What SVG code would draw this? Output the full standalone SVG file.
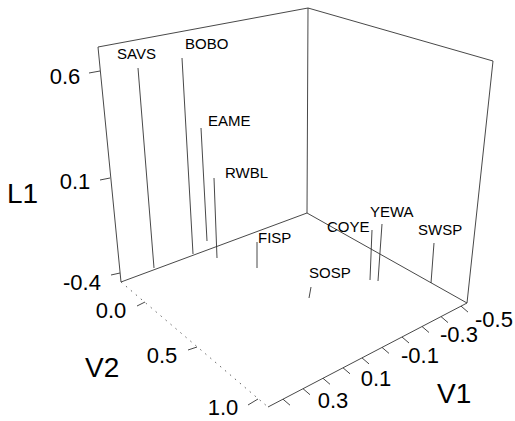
<svg xmlns="http://www.w3.org/2000/svg" width="515" height="421" viewBox="0 0 515 421">
<style>
.frame{stroke:#333;stroke-width:0.9;fill:none}
.drop{stroke:#333;stroke-width:0.9;fill:none}
.tick{stroke:#333;stroke-width:0.9;fill:none}
.hid{stroke:#666;stroke-width:1;fill:none;stroke-dasharray:1.5 5}
.sp{font-family:"Liberation Sans",Arial,sans-serif;font-size:15px;fill:#000}
.tl{font-family:"Liberation Sans",Arial,sans-serif;font-size:22px;fill:#000;text-anchor:middle}
.at{font-family:"Liberation Sans",Arial,sans-serif;font-size:28px;fill:#000}
</style>
<rect width="515" height="421" fill="#fff"/>
<g id="box">
<polyline class="frame" points="121,282 98,47 308,8 493,61 467,303"/>
<line class="frame" x1="308" y1="8" x2="307" y2="213"/>
<polyline class="frame" points="121,282 307,213 467,303 268,407"/>
<line class="hid" x1="121" y1="282" x2="268" y2="407"/>
</g>
<g id="axis-L1">
<line class="tick" x1="89" y1="73" x2="100" y2="71"/>
<line class="tick" x1="100" y1="180" x2="110" y2="178"/>
<line class="tick" x1="111" y1="275" x2="120" y2="273"/>
<text class="tl" x="65" y="84">0.6</text>
<text class="tl" x="75" y="189">0.1</text>
<text class="tl" x="82" y="290">-0.4</text>
<text class="at" x="7" y="203">L1</text>
</g>
<g id="axis-V2">
<line class="tick" x1="137" y1="306" x2="145" y2="302"/>
<line class="tick" x1="188" y1="350" x2="197" y2="347"/>
<line class="tick" x1="248" y1="405" x2="258" y2="399"/>
<text class="tl" x="111" y="318">0.0</text>
<text class="tl" x="162" y="363">0.5</text>
<text class="tl" x="223" y="415">1.0</text>
<text class="at" x="85" y="377">V2</text>
</g>
<g id="axis-V1">
<line class="tick" x1="461" y1="306.1" x2="468" y2="312.1"/>
<line class="tick" x1="441" y1="316.6" x2="448" y2="322.6"/>
<line class="tick" x1="422" y1="326.5" x2="429" y2="332.5"/>
<line class="tick" x1="402" y1="337" x2="409" y2="343"/>
<line class="tick" x1="382" y1="347.4" x2="389" y2="353.4"/>
<line class="tick" x1="362" y1="357.9" x2="369" y2="363.9"/>
<line class="tick" x1="343" y1="367.8" x2="350" y2="373.8"/>
<line class="tick" x1="323" y1="378.3" x2="330" y2="384.3"/>
<line class="tick" x1="303" y1="388.7" x2="310" y2="394.7"/>
<line class="tick" x1="283" y1="399.2" x2="290" y2="405.2"/>
<text class="tl" x="494" y="327">-0.5</text>
<text class="tl" x="459" y="342">-0.3</text>
<text class="tl" x="420" y="363">-0.1</text>
<text class="tl" x="376" y="386">0.1</text>
<text class="tl" x="333" y="408">0.3</text>
<text class="at" x="437" y="403">V1</text>
</g>
<g id="connectors">
<line class="drop" x1="138" y1="68" x2="154" y2="268"/>
<line class="drop" x1="182" y1="58" x2="193" y2="254"/>
<line class="drop" x1="201" y1="128" x2="207" y2="241"/>
<line class="drop" x1="214" y1="178" x2="217" y2="258"/>
<line class="drop" x1="257" y1="242" x2="257" y2="268"/>
<line class="drop" x1="311" y1="287" x2="309" y2="298"/>
<line class="drop" x1="372" y1="230" x2="370" y2="280"/>
<line class="drop" x1="382" y1="224" x2="378" y2="281"/>
<line class="drop" x1="434" y1="243" x2="431" y2="283"/>
</g>
<g id="SAVS"><text class="sp" x="117" y="59">SAVS</text></g>
<g id="BOBO"><text class="sp" x="185" y="49">BOBO</text></g>
<g id="EAME"><text class="sp" x="208" y="126">EAME</text></g>
<g id="RWBL"><text class="sp" x="225" y="178">RWBL</text></g>
<g id="FISP"><text class="sp" x="258" y="243">FISP</text></g>
<g id="SOSP"><text class="sp" x="309" y="278">SOSP</text></g>
<g id="COYE"><text class="sp" x="327" y="232">COYE</text></g>
<g id="YEWA"><text class="sp" x="370" y="217">YEWA</text></g>
<g id="SWSP"><text class="sp" x="418" y="235">SWSP</text></g>
</svg>
